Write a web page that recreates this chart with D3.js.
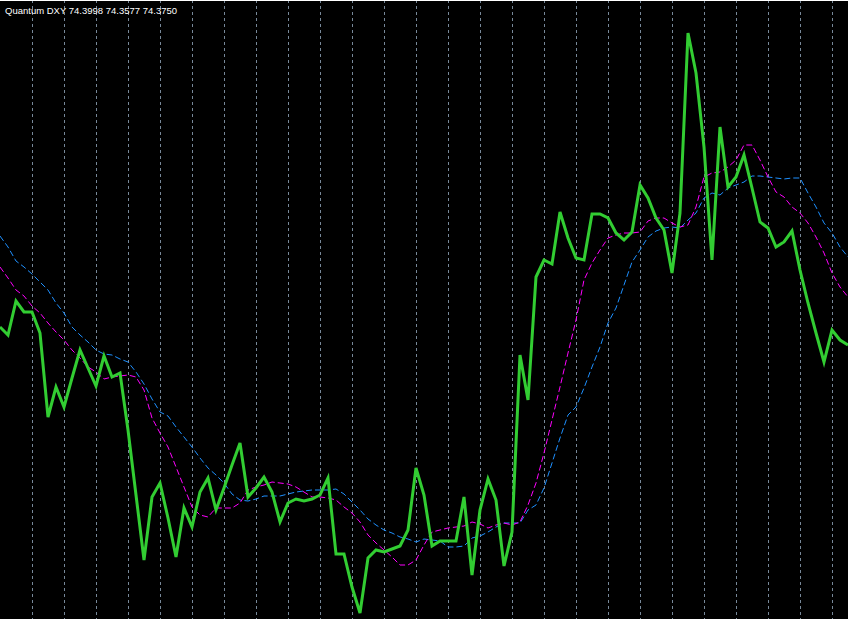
<!DOCTYPE html>
<html><head><meta charset="utf-8">
<script src="https://cdn.jsdelivr.net/npm/d3@7/dist/d3.min.js"></script>
<style>html,body{margin:0;padding:0;background:#000;overflow:hidden}</style>
</head><body>
<script>
const title = "Quantum DXY";
const lastValues = ["74.3998", "74.3577", "74.3750"];

const mainLine = [
74.3665,74.3625,74.3795,74.374,74.374,74.3635,74.3215,74.3365,74.3265,74.341,
74.355,74.346,74.337,74.352,74.3415,74.3435,74.315,74.2825,74.25,74.2815,
74.2885,74.271,74.2515,74.276,74.2665,74.284,74.291,74.275,74.286,74.2975,
74.3085,74.2815,74.286,74.2915,74.284,74.269,74.2785,74.2805,74.2795,74.2805,
74.2825,74.291,74.253,74.253,74.2365,74.2235,74.251,74.255,74.254,74.2555,
74.257,74.265,74.296,74.2825,74.257,74.2595,74.2595,74.2595,74.2815,74.2425,
74.275,74.2905,74.28,74.247,74.264,74.3525,74.33,74.3915,74.4,74.398,
74.424,74.411,74.401,74.4,74.423,74.423,74.421,74.4135,74.41,74.414,
74.4375,74.431,74.421,74.415,74.3935,74.4235,74.5135,74.4935,74.4565,74.4,
74.4665,74.4365,74.4415,74.4525,74.436,74.419,74.416,74.4065,74.409,74.4145,
74.395,74.3785,74.3635,74.349,74.365,74.36,74.3575];

const fastSignal = [
74.3965,74.391,74.385,74.382,74.377,74.3735,74.3685,74.364,74.36,74.355,
74.351,74.3465,74.344,74.3405,74.3415,74.342,74.3425,74.3415,74.335,74.321,
74.3135,74.3065,74.2965,74.2865,74.2765,74.2725,74.2715,74.276,74.276,74.276,
74.2785,74.285,74.2865,74.2875,74.289,74.2885,74.288,74.2865,74.284,74.2815,
74.2815,74.281,74.28,74.2765,74.2735,74.269,74.2625,74.2585,74.255,74.2515,
74.2475,74.2475,74.25,74.2575,74.264,74.265,74.266,74.2665,74.267,74.269,
74.268,74.266,74.2675,74.2685,74.2675,74.269,74.2775,74.2885,74.3035,74.32,
74.3365,74.3535,74.37,74.39,74.3985,74.405,74.411,74.4125,74.4135,74.4135,
74.414,74.4195,74.421,74.421,74.4185,74.4165,74.4175,74.4265,74.4415,74.4435,
74.444,74.4465,74.45,74.4575,74.4575,74.45,74.4415,74.434,74.4315,74.4265,
74.4235,74.4185,74.4115,74.4035,74.3935,74.3865,74.3815];

const slowSignal = [
74.412,74.4065,74.3995,74.3965,74.393,74.389,74.385,74.3785,74.3735,74.3665,
74.3625,74.359,74.355,74.353,74.3525,74.3505,74.349,74.344,74.338,74.3305,
74.324,74.322,74.3165,74.3115,74.3065,74.301,74.296,74.2925,74.2885,74.283,
74.28,74.2795,74.2805,74.282,74.282,74.282,74.283,74.284,74.2845,74.285,
74.285,74.285,74.2855,74.283,74.279,74.275,74.2705,74.2675,74.265,74.2635,
74.2615,74.2605,74.259,74.2605,74.26,74.2595,74.2565,74.2565,74.257,74.261,
74.262,74.264,74.2665,74.2685,74.2685,74.2685,74.275,74.2775,74.286,74.2985,
74.311,74.3225,74.3265,74.336,74.3465,74.3565,74.3685,74.376,74.3875,74.399,
74.405,74.4115,74.4145,74.416,74.4165,74.416,74.42,74.4235,74.431,74.4335,
74.4325,74.436,74.4375,74.439,74.442,74.442,74.4415,74.441,74.4405,74.441,
74.441,74.4335,74.4265,74.4185,74.4135,74.4065,74.4015];

const gridEvery = 4;

const W = 848, H = 619;
const svg = d3.select("body").append("svg").attr("width", W).attr("height", H)
  .style("display","block").style("background","#000");

const n = mainLine.length;
const x = d3.scaleLinear().domain([0, n - 1]).range([0, W]);
const y = d3.scaleLinear().domain([74.2205, 74.53]).range([H, 0]);

// vertical dashed grid
const gridIdx = d3.range(gridEvery, n - 1, gridEvery);
svg.append("g").selectAll("line").data(gridIdx).join("line")
  .attr("x1", d => Math.round(x(d)) + 0.5).attr("x2", d => Math.round(x(d)) + 0.5)
  .attr("y1", 0).attr("y2", H)
  .attr("stroke", "#778899").attr("stroke-width", 1)
  .attr("stroke-dasharray", "3,3");

// top border
svg.append("line").attr("x1", 0).attr("x2", W).attr("y1", 0.5).attr("y2", 0.5)
  .attr("stroke", "#fff").attr("stroke-width", 1);

const line = d3.line().x((d, i) => x(i)).y(d => y(d));

svg.append("path").datum(slowSignal).attr("d", line)
  .attr("fill", "none").attr("stroke", "#1E90FF").attr("stroke-width", 1)
  .attr("stroke-dasharray", "6,3");

svg.append("path").datum(fastSignal).attr("d", line)
  .attr("fill", "none").attr("stroke", "#FF00FF").attr("stroke-width", 1)
  .attr("stroke-dasharray", "6,3");

svg.append("path").datum(mainLine).attr("d", line)
  .attr("fill", "none").attr("stroke", "#32CD32").attr("stroke-width", 3)
  .attr("stroke-linejoin", "miter").attr("stroke-miterlimit", 4);

svg.append("text").attr("x", 5).attr("y", 14)
  .attr("fill", "#fff").attr("font-family", "Liberation Sans, Arial, sans-serif")
  .attr("font-size", 9.5)
  .text(title + " " + lastValues.join(" "));
</script>
</body></html>
